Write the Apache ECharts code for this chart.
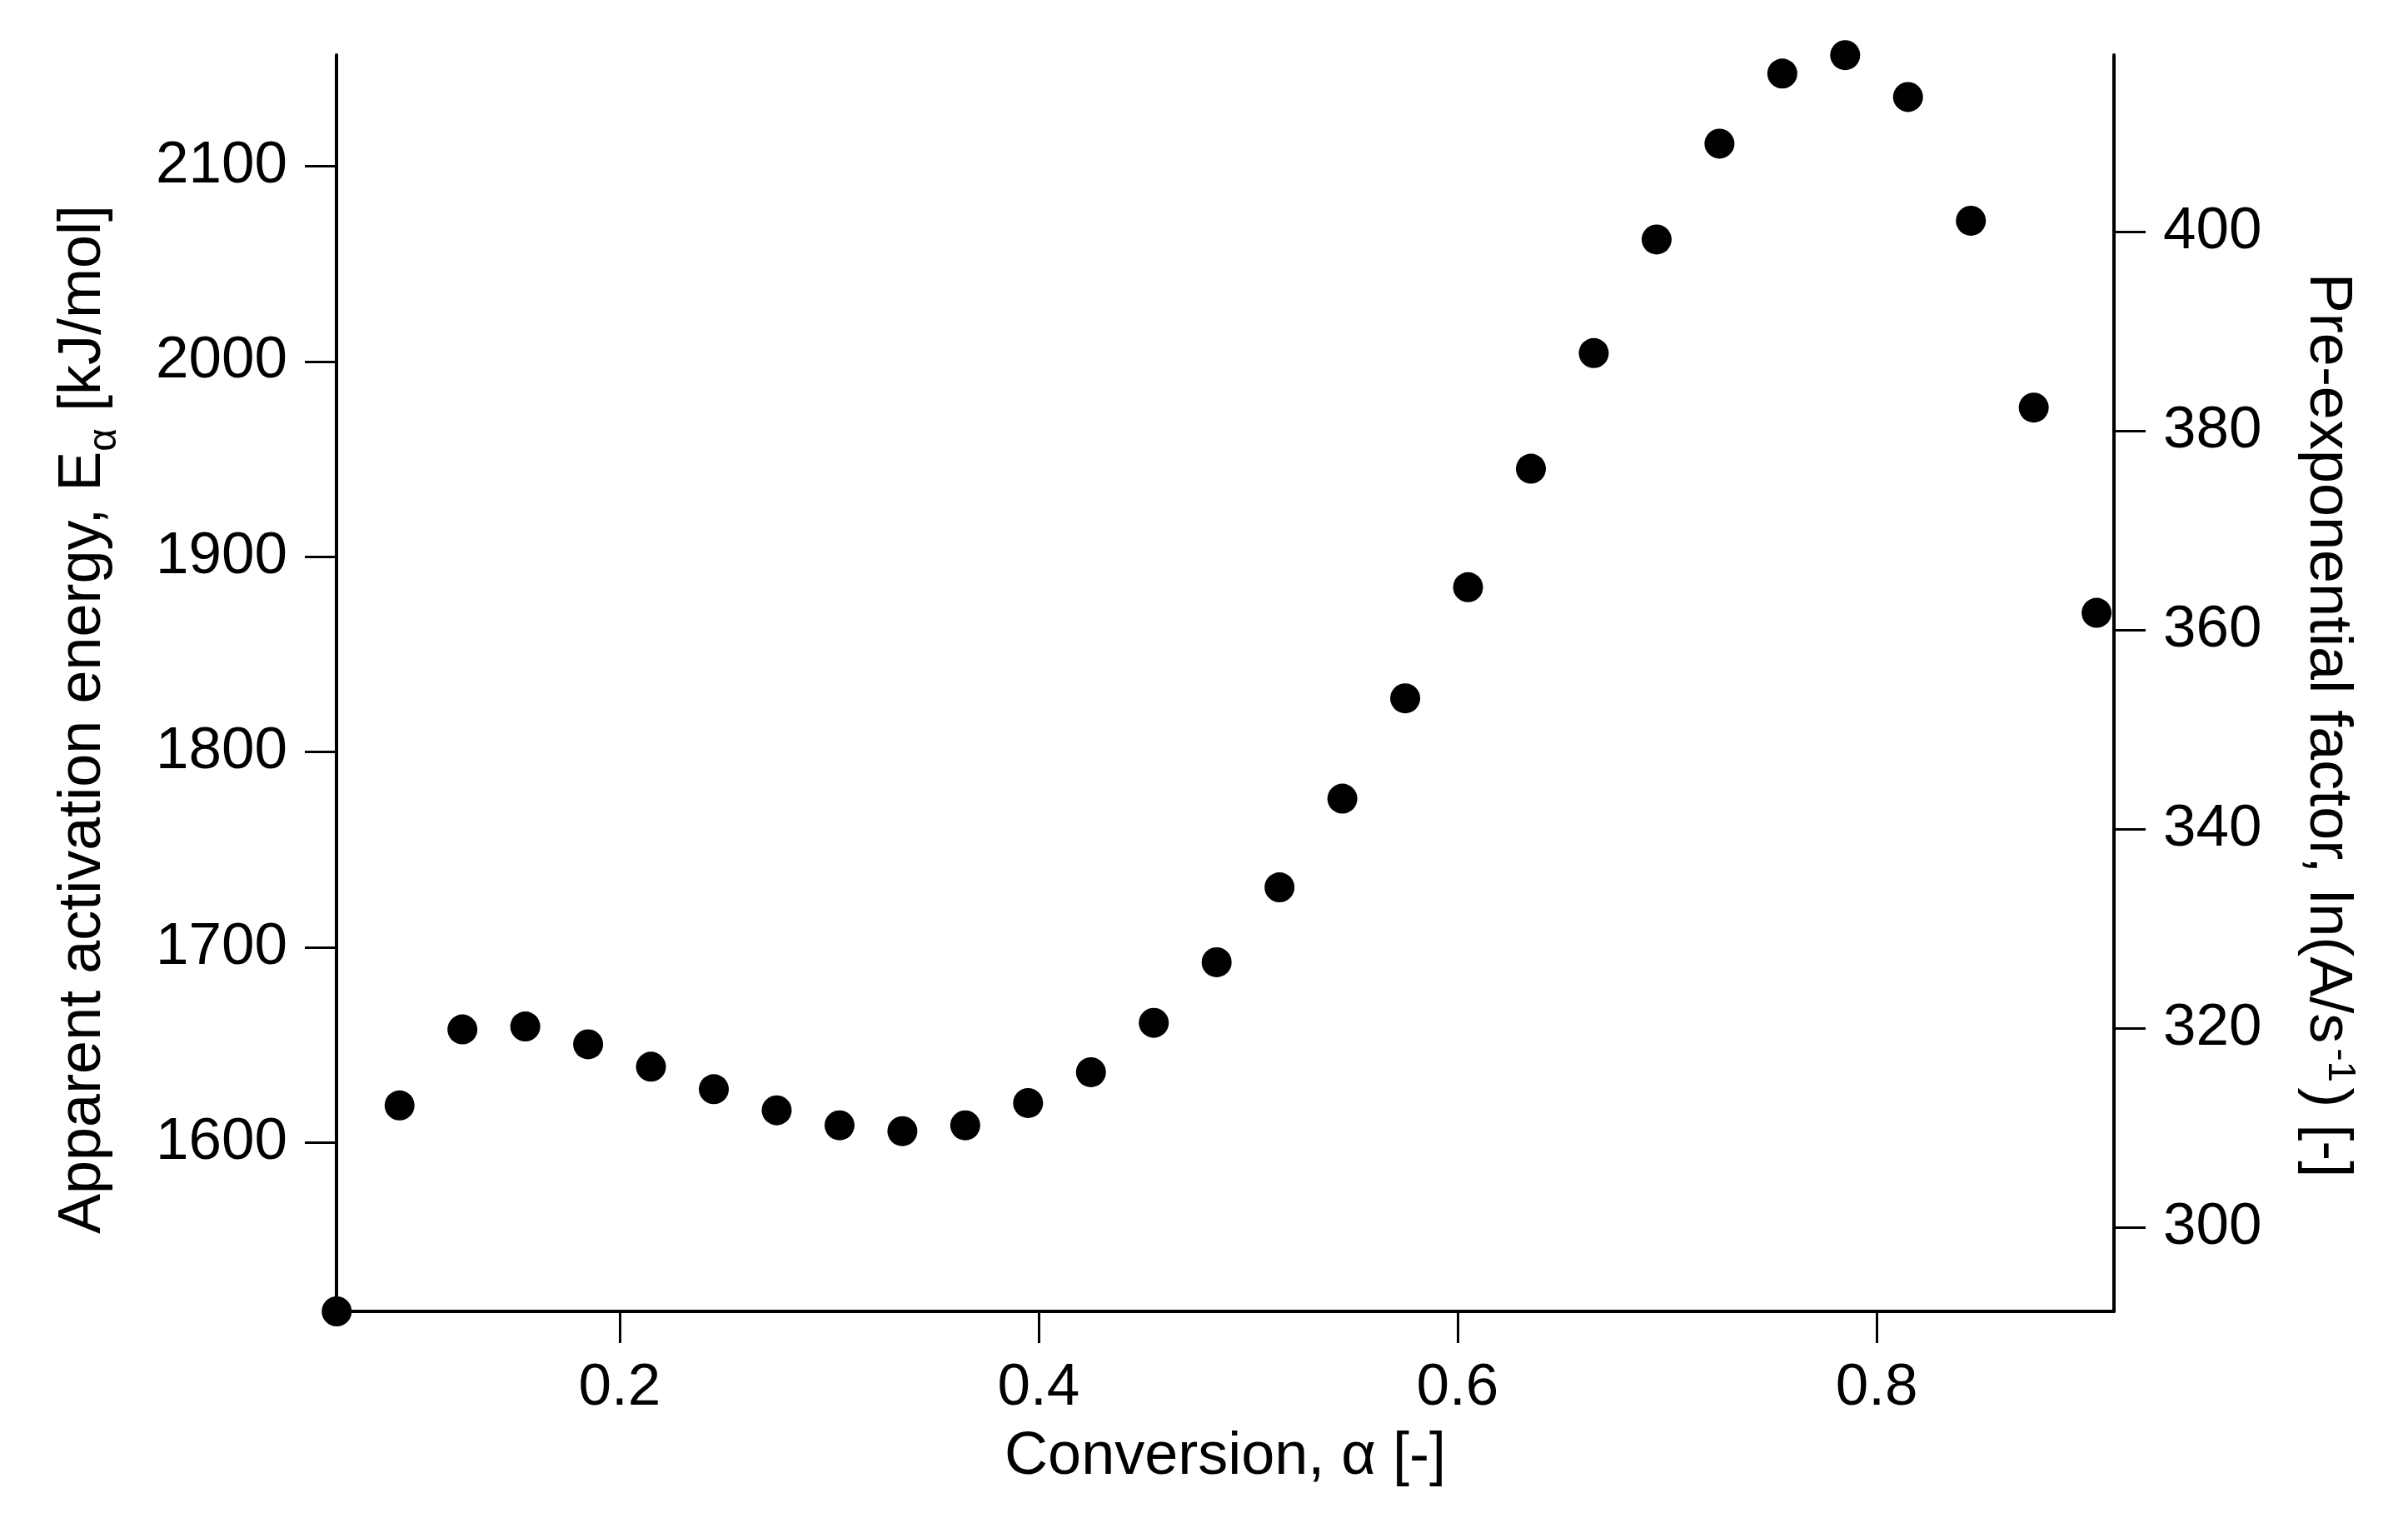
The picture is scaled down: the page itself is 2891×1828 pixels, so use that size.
<!DOCTYPE html>
<html><head><meta charset="utf-8">
<script src="https://cdn.jsdelivr.net/npm/echarts@6/dist/echarts.min.js"></script>
<style>html,body{margin:0;padding:0;background:#fff}#c{width:2891px;height:1828px}</style>
</head><body><div id="c"></div>
<script>
const conversion = [0.065,0.095,0.125,0.155,0.185,0.215,0.245,0.275,0.305,0.335,0.365,0.395,0.425,0.455,0.485,0.515,0.545,0.575,0.605,0.635,0.665,0.695,0.725,0.755,0.785,0.815,0.845,0.875,0.905];
const activationEnergy = [1513.5,1619.0,1657.9,1659.4,1650.3,1638.8,1627.3,1616.5,1608.8,1605.8,1608.8,1620.2,1636.0,1661.3,1692.3,1730.7,1776.1,1827.5,1884.4,1945.1,2004.3,2062.5,2111.6,2147.5,2156.9,2135.5,2072.1,1976.4,1871.3];
const xTicks = [0.2,0.4,0.6,0.8];
const eaTicks = [1600,1700,1800,1900,2000,2100];
const lnATicks = [300,320,340,360,380,400];

const FONT = '"Liberation Sans", Arial, Helvetica, sans-serif';
const axisLine = {show:true, lineStyle:{color:'#000', width:4}};
const axisTick = (vals)=>({show:true, inside:false, length:38, customValues:vals, lineStyle:{color:'#000', width:3}});
const label = (vals, margin)=>({show:true, customValues:vals, margin:margin, color:'#000', fontSize:71, fontFamily:FONT,
  formatter:(v)=>String(v)});

const chart = echarts.init(document.getElementById('c'), null, {renderer:'canvas'});
chart.setOption({
  backgroundColor:'#fff',
  animation:false,
  grid:{left:404, right:353, top:66, bottom:254, containLabel:false},
  xAxis:{
    type:'value', min:0.0649, max:0.9133,
    axisLine:axisLine, axisTick:axisTick(xTicks), axisLabel:label(xTicks, 57),
    splitLine:{show:false},
    name:'Conversion, α [-]', nameLocation:'middle', nameGap:139,
    nameTextStyle:{color:'#000', fontSize:72, fontFamily:FONT}
  },
  yAxis:[{
    type:'value', position:'left', min:1513.5, max:2157,
    axisLine:axisLine, axisTick:axisTick(eaTicks), axisLabel:label(eaTicks, 59),
    splitLine:{show:false},
    name:'{t|Apparent activation energy, E}{s|α}{t| [kJ/mol]}', nameLocation:'middle', nameGap:268,
    nameTextStyle:{color:'#000', fontSize:72, fontFamily:FONT, padding:[0,87,0,0],
      rich:{t:{fontSize:72, fontFamily:FONT, color:'#000'}, s:{fontSize:48, fontFamily:FONT, color:'#000', verticalAlign:'bottom', padding:[0,0,-14,0]}}}
  },{
    type:'value', position:'right', min:291.6, max:417.8,
    axisLine:axisLine, axisTick:axisTick(lnATicks), axisLabel:label(lnATicks, 59),
    splitLine:{show:false},
    name:'{t|Pre-exponential factor, ln(A/s}{p|-1}{t|) [-]}', nameLocation:'middle', nameGap:218, nameRotate:-90,
    nameTextStyle:{color:'#000', fontSize:72, fontFamily:FONT, padding:[0,0,0,101],
      rich:{t:{fontSize:72, fontFamily:FONT, color:'#000'}, p:{fontSize:46, fontFamily:FONT, color:'#000', verticalAlign:'top', padding:[0,6,30,6]}}}
  }],
  series:[{
    type:'scatter', yAxisIndex:0, clip:false,
    data: conversion.map((x,i)=>[x, activationEnergy[i]]),
    symbol:'circle', symbolSize:36,
    itemStyle:{color:'#000', opacity:1}
  }]
});
</script>
</body></html>
